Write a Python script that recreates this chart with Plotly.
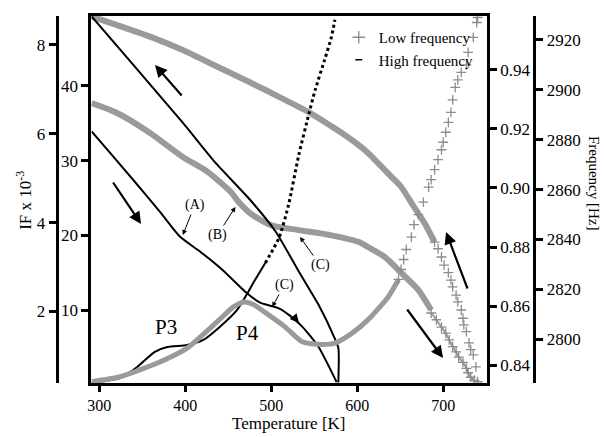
import plotly.graph_objects as go

W, H = 604, 437
FONT = "Liberation Serif"

# ---------------- tick values ----------------
T_TICKS = [300, 400, 500, 600, 700]
IF_TICKS = [2, 4, 6, 8]
Q_TICKS = [10, 20, 30, 40]
R_TICKS = [0.84, 0.86, 0.88, 0.90, 0.92, 0.94]
HZ_TICKS = [2800, 2820, 2840, 2860, 2880, 2900, 2920]

# ---------------- black IF loop (outer left axis, IF x 10^-3) ----------------
heatA_T = [291, 316, 339, 371, 394, 417, 443, 470, 487, 499, 510, 522, 536, 555, 576]
heatA_IF = [6.05, 5.49, 4.97, 4.23, 3.68, 3.35, 2.94, 2.44, 2.20, 2.13, 2.06, 1.90, 1.66, 1.20, 0.41]
coolA_T = [291, 339, 397, 435, 475, 505, 532, 555, 573, 578, 578]
coolA_IF = [8.64, 7.56, 6.25, 5.35, 4.52, 3.80, 2.90, 2.15, 1.43, 1.18, 0.40]

# ---------------- grey IF loop (inner left axis) ----------------
coolB_T = [291, 359, 397, 435, 475, 513, 545, 570, 586, 611, 640, 651, 666, 678, 690]
coolB_v = [49.3, 46.6, 44.8, 42.7, 40.5, 38.3, 36.4, 34.6, 33.4, 31.2, 27.8, 26.5, 23.8, 21.7, 19.1]
coolB_tail_T = [690, 694, 698, 701, 706, 709, 711, 715, 717, 721, 723, 724, 727, 730, 732, 735, 738, 740]
coolB_tail_v = [19.1, 18.2, 17.1, 16.0, 15.0, 14.0, 13.1, 12.0, 11.1, 10.0, 8.9, 8.0, 7.1, 5.6, 4.7, 4.0, 2.4, 0.4]

heatB_T = [291, 320, 359, 397, 426, 453, 461, 472, 481, 501, 532, 570, 602, 613, 632, 651, 671, 686]
heatB_v = [37.7, 36.4, 33.7, 30.5, 28.5, 25.8, 24.6, 23.3, 22.5, 21.3, 20.7, 20.0, 19.1, 18.4, 17.1, 15.0, 12.7, 10.0]
heatB_tail_T = [686, 692, 698, 703, 707, 711, 715, 718, 723, 727, 729, 732, 736]
heatB_tail_v = [9.6, 8.7, 7.7, 6.9, 6.0, 5.1, 4.4, 3.7, 3.0, 2.2, 1.6, 1.0, 0.6]

# ---------------- low frequency (Hz axis) ----------------
low_T = [291, 324, 364, 402, 440, 456, 468, 479, 494, 516, 536, 555, 574, 594, 613, 636, 648]
low_Hz = [2783, 2785, 2790, 2796.5, 2808, 2813, 2815, 2814, 2810.5, 2805, 2799, 2798, 2798.5, 2802.5, 2808, 2817, 2824]
low_tail_T = [648, 651, 654, 657, 663, 666, 671, 677, 683, 686, 690, 694, 698, 700, 703, 706, 709,
              711, 714, 717, 721, 727, 729, 735, 739, 740]
low_tail_Hz = [2824, 2828, 2832, 2836, 2841, 2846, 2850, 2855, 2861, 2864, 2868, 2872, 2876, 2879, 2883,
               2887, 2891, 2896, 2901, 2904, 2907, 2910, 2915, 2921, 2927, 2929]

# ---------------- high frequency (inner right axis) ----------------
high_T = [291, 324, 344, 364, 379, 402, 421, 440, 460, 471, 481, 493]
high_v = [0.834, 0.8356, 0.8393, 0.8444, 0.8461, 0.8468, 0.8485, 0.8529, 0.8586, 0.8637, 0.8688, 0.8746]
high_tail_T = [493, 509, 520, 532, 544, 551, 562, 570, 574]
high_tail_v = [0.8746, 0.8831, 0.8942, 0.9112, 0.9254, 0.9332, 0.9434, 0.9512, 0.9570]

GREY = "#9a9a9a"
GREY_X = "#8c8c8c"

fig = go.Figure()

def line(x, y, axis, color, width, dash="solid"):
    fig.add_trace(go.Scatter(x=x, y=y, yaxis=axis, mode="lines", showlegend=False,
                             line=dict(color=color, width=width, dash=dash, shape="spline", smoothing=0.6),
                             hoverinfo="skip"))

def crosses(x, y, axis, size=7):
    fig.add_trace(go.Scatter(x=x, y=y, yaxis=axis, mode="markers", showlegend=False,
                             marker=dict(symbol="cross-thin", size=size, line=dict(color=GREY_X, width=1.3)),
                             hoverinfo="skip"))

# grey loop
line(coolB_T, coolB_v, "y", GREY, 6)
crosses(coolB_tail_T, coolB_tail_v, "y")
line(heatB_T, heatB_v, "y", GREY, 6)
line(heatB_tail_T, heatB_tail_v, "y", GREY, 2)
crosses(heatB_tail_T, heatB_tail_v, "y")
# low frequency
line(low_T, low_Hz, "y4", GREY, 5)
crosses(low_tail_T, low_tail_Hz, "y4")
# black loop
line(heatA_T, heatA_IF, "y2", "black", 2)
line(coolA_T, coolA_IF, "y2", "black", 2)
# high frequency
line(high_T, high_v, "y3", "black", 2)
line(high_tail_T, high_tail_v, "y3", "black", 3, dash="dot")

# legend entries
fig.add_trace(go.Scatter(x=[None], y=[None], mode="markers", name="Low frequency",
                         marker=dict(symbol="cross-thin", size=9, line=dict(color=GREY_X, width=1.3))))
fig.add_trace(go.Scatter(x=[None], y=[None], mode="markers", name="High frequency",
                         marker=dict(symbol="line-ew", size=5, line=dict(color="black", width=1.5))))

def P(x, y):
    return x / W, 1 - y / H

ann = []
# big direction arrows
for head, tail in [((152, 65), (180, 97)), ((138, 224), (109, 181)),
                   ((445, 232), (467, 290)), ((442, 358), (405, 308))]:
    hx, hy = P(*head)
    ann.append(dict(x=hx, y=hy, xref="paper", yref="paper", ax=tail[0] - head[0], ay=tail[1] - head[1],
                    showarrow=True, arrowhead=2, arrowsize=1.1, arrowwidth=2.2, arrowcolor="black", text=""))
# small arrowhead on curve A
hx, hy = P(297, 323)
ann.append(dict(x=hx, y=hy, xref="paper", yref="paper", ax=-6, ay=-7, showarrow=True,
                arrowhead=2, arrowsize=1.2, arrowwidth=1.5, arrowcolor="black", text=""))
# labelled pointers
for txt, tip, lab in [("(A)", (180, 235), (192, 205)), ("(B)", (233, 207), (215, 235)),
                      ("(C)", (298, 237), (318, 265)), ("(C)", (270, 307), (282, 285))]:
    hx, hy = P(*tip)
    ann.append(dict(x=hx, y=hy, xref="paper", yref="paper", ax=lab[0] - tip[0], ay=lab[1] - tip[1],
                    text=txt, showarrow=True, arrowhead=2, arrowsize=1, arrowwidth=1, arrowcolor="black",
                    font=dict(family=FONT, size=14, color="black")))

def label(txt, pos, size, angle=0):
    px, py = P(*pos)
    ann.append(dict(x=px, y=py, xref="paper", yref="paper", text=txt, showarrow=False,
                    xanchor="center", yanchor="middle", textangle=angle,
                    font=dict(family=FONT, size=size, color="black")))

label("P3", (163, 327), 21)
label("P4", (245, 333), 21)
# axis titles
label("Temperature [K]", (287, 423), 17)
label("IF x 10<sup>-3</sup>", (20, 200), 17, -90)
label("Frequency [Hz]", (594, 183), 15, 90)

axcommon = dict(showgrid=False, zeroline=False, ticks="outside", ticklen=7, tickwidth=3,
                tickcolor="black", showline=True, linewidth=3, linecolor="black",
                tickfont=dict(family=FONT, size=17, color="black"))

ydom = [1 - 383 / H, 1 - 16 / H]
xax = dict(axcommon)
xax.update(ticklen=6, tickfont=dict(family=FONT, size=16, color="black"))
fig.update_layout(
    width=W, height=H, autosize=False,
    margin=dict(l=0, r=0, t=0, b=0),
    paper_bgcolor="white", plot_bgcolor="white",
    font=dict(family=FONT, color="black"),
    xaxis=dict(domain=[88 / W, 486 / W], range=[290.75, 750.7], tickvals=T_TICKS, mirror=True, **xax),
    yaxis=dict(domain=ydom, range=[0.23, 49.36], tickvals=Q_TICKS, **axcommon),
    yaxis2=dict(overlaying="y", anchor="free", position=53 / W, side="left",
                range=[0.39, 8.65], tickvals=IF_TICKS, **axcommon),
    yaxis3=dict(overlaying="y", anchor="x", side="right", range=[0.8339, 0.9583],
                tickvals=R_TICKS, tickformat=".2f", **axcommon),
    yaxis4=dict(overlaying="y", anchor="free", position=534 / W, side="right",
                range=[2782.5, 2929.6], tickvals=HZ_TICKS, **axcommon),
    legend=dict(x=337 / W, y=1 - 21 / H, xanchor="left", yanchor="top", bgcolor="rgba(0,0,0,0)",
                font=dict(family=FONT, size=15, color="black"), tracegroupgap=0, itemwidth=30),
    annotations=ann,
    showlegend=True,
)

fig.write_html("out.html")
